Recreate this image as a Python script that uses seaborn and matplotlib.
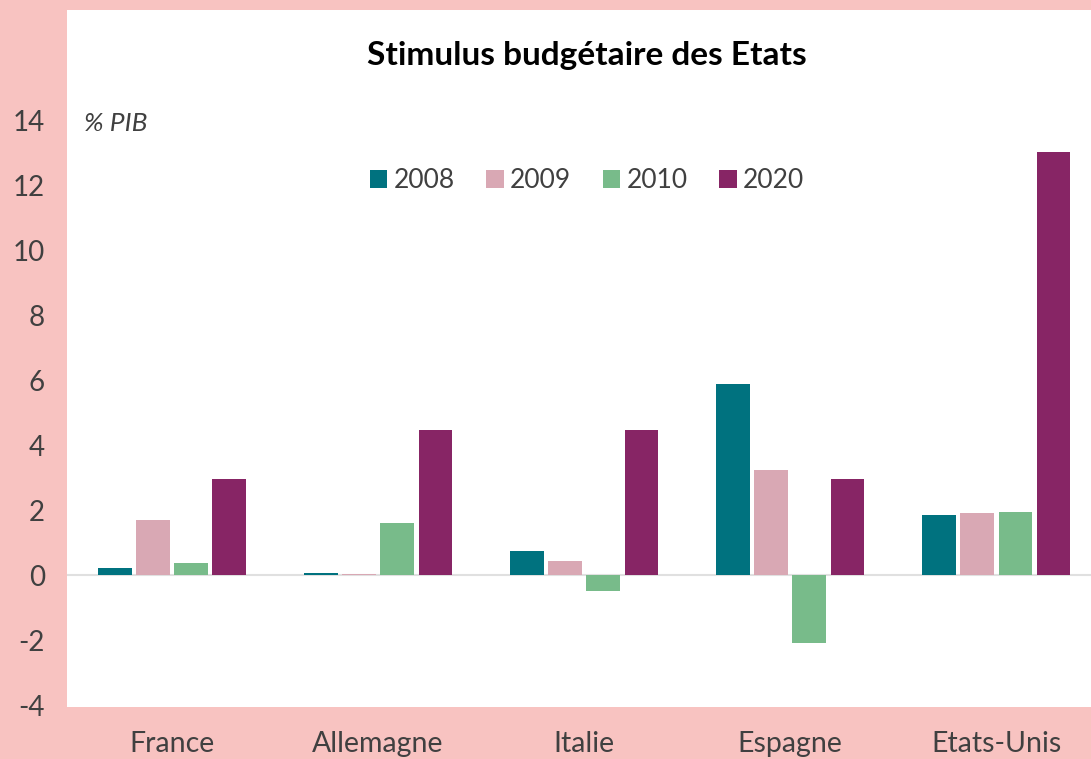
import seaborn as sns
import matplotlib.pyplot as plt
import pandas as pd

pays = ['France', 'Allemagne', 'Italie', 'Espagne', 'Etats-Unis']
annees = ['2008', '2009', '2010', '2020']
v2008 = [0.22, 0.08, 0.74, 5.88, 1.85]
v2009 = [1.72, 0.03, 0.43, 3.26, 1.91]
v2010 = [0.37, 1.60, -0.49, -2.09, 1.94]
v2020 = [2.98, 4.49, 4.49, 2.98, 13.05]
couleurs = ['#00727F', '#D9A8B4', '#78BB8A', '#872565']

rows = []
for annee, vals in zip(annees, [v2008, v2009, v2010, v2020]):
    for p, v in zip(pays, vals):
        rows.append({'pays': p, 'annee': annee, 'valeur': v})
df = pd.DataFrame(rows)

sns.set_style('white')
plt.rcParams['font.family'] = ['Lato', 'DejaVu Sans']
plt.rcParams['axes.unicode_minus'] = False

fig = plt.figure(figsize=(10.91, 7.59), dpi=100)
fig.patch.set_facecolor('#F8C3C1')
ax = fig.add_axes([0.0614, 0.0685, 0.9386, 0.918])
ax.set_facecolor('white')

sns.barplot(data=df, x='pays', y='valeur', hue='annee', order=pays, hue_order=annees,
            palette=couleurs, saturation=1, width=0.74, gap=0.12, linewidth=0, ax=ax)

ax.axhline(0, color='#E0E0E0', lw=1.5, zorder=0)
ax.set_xlim(-0.51, 4.46)
ax.set_ylim(-4.05, 17.4)
ax.set_yticks(range(-4, 15, 2))
ax.tick_params(axis='y', labelsize=20, labelcolor='#404040', pad=16, length=0)
ax.tick_params(axis='x', labelsize=20.5, labelcolor='#404040', pad=17, length=0)
for s in ax.spines.values():
    s.set_visible(False)
ax.set_xlabel('')
ax.set_ylabel('')

ax.text(0.508, 0.935, 'Stimulus budgétaire des Etats', transform=ax.transAxes,
        ha='center', va='center', fontsize=24, fontweight='bold', color='black')
ax.text(0.017, 0.838, '% PIB', transform=ax.transAxes, ha='left', va='center',
        fontsize=19, style='italic', color='#404040')

ax.legend(loc='center', bbox_to_anchor=(0.508, 0.755), ncol=4, frameon=False,
          fontsize=19, handlelength=0.65, handleheight=0.65, handletextpad=0.25,
          columnspacing=1.2, labelcolor='#404040')

fig.savefig('out.png', dpi=100, facecolor=fig.get_facecolor())
